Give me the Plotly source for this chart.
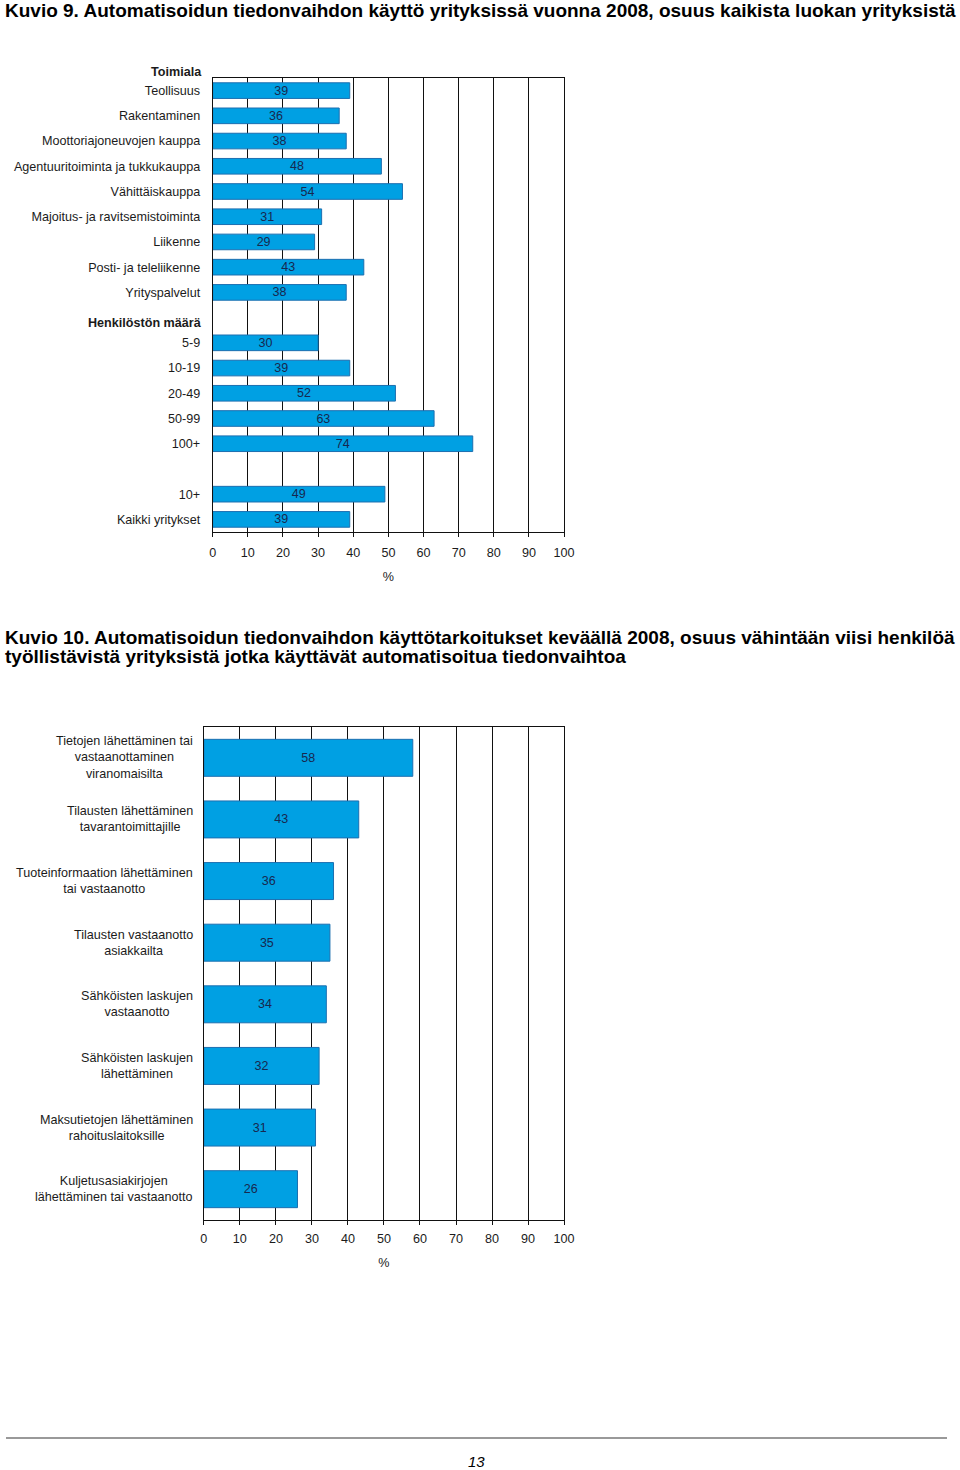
import plotly.graph_objects as go

# ---------------- data: Kuvio 9 ----------------
toimiala_labels = ["Teollisuus", "Rakentaminen", "Moottoriajoneuvojen kauppa",
                   "Agentuuritoiminta ja tukkukauppa", "Vähittäiskauppa",
                   "Majoitus- ja ravitsemistoiminta", "Liikenne",
                   "Posti- ja teleliikenne", "Yrityspalvelut"]
toimiala_values = [39, 36, 38, 48, 54, 31, 29, 43, 38]

koko_labels = ["5-9", "10-19", "20-49", "50-99", "100+"]
koko_values = [30, 39, 52, 63, 74]

total_labels = ["10+", "Kaikki yritykset"]
total_values = [49, 39]

header_labels = ["Toimiala", "Henkilöstön määrä"]

# ---------------- data: Kuvio 10 ----------------
purpose_labels = ["Tietojen lähettäminen tai<br>vastaanottaminen<br>viranomaisilta",
                  "Tilausten lähettäminen<br>tavarantoimittajille",
                  "Tuoteinformaation lähettäminen<br>tai vastaanotto",
                  "Tilausten vastaanotto<br>asiakkailta",
                  "Sähköisten laskujen<br>vastaanotto",
                  "Sähköisten laskujen<br>lähettäminen",
                  "Maksutietojen lähettäminen<br>rahoituslaitoksille",
                  "Kuljetusasiakirjojen<br>lähettäminen tai vastaanotto"]
purpose_values = [58, 43, 36, 35, 34, 32, 31, 26]

x_ticks = [0, 10, 20, 30, 40, 50, 60, 70, 80, 90, 100]

title1 = "Kuvio 9. Automatisoidun tiedonvaihdon käyttö yrityksissä vuonna 2008, osuus kaikista luokan yrityksistä"
title2_lines = ["Kuvio 10. Automatisoidun tiedonvaihdon käyttötarkoitukset keväällä 2008, osuus vähintään viisi henkilöä",
                "työllistävistä yrityksistä jotka käyttävät automatisoitua tiedonvaihtoa"]
page_number = "13"

# ---------------- build ----------------
W, H = 960, 1470
FONT = "Liberation Sans, Arial, sans-serif"
BAR = "#00A0E3"
BAR_LINE = "#1C6FB0"
TXT = "#1b1b1b"
VAL_TXT = "#17284f"
LBL = 12.6


def fx(px):
    return px / W


def py(px):
    return 1 - px / H


# slot positions for chart 1 (gap rows for headers / spacing)
pos_toim = list(range(len(toimiala_labels)))
start_koko = len(toimiala_labels) + 1
pos_koko = [start_koko + i for i in range(len(koko_labels))]
start_tot = pos_koko[-1] + 2
pos_tot = [start_tot + i for i in range(len(total_labels))]

y1_pos = pos_toim + pos_koko + pos_tot
y1_vals = toimiala_values + koko_values + total_values
y1_labels = toimiala_labels + koko_labels + total_labels

fig = go.Figure()

fig.add_trace(go.Bar(
    x=y1_vals, y=y1_pos, orientation="h", xaxis="x", yaxis="y",
    width=0.62,
    marker=dict(color=BAR, line=dict(color=BAR_LINE, width=1)),
    text=[str(v) for v in y1_vals], textposition="inside", constraintext="none",
    insidetextanchor="middle", textangle=0,
    insidetextfont=dict(family=FONT, size=12.5, color=VAL_TXT),
    hoverinfo="skip", showlegend=False,
))

y2_pos = list(range(len(purpose_labels)))
fig.add_trace(go.Bar(
    x=purpose_values, y=y2_pos, orientation="h", xaxis="x2", yaxis="y2",
    width=0.6,
    marker=dict(color=BAR, line=dict(color=BAR_LINE, width=1)),
    text=[str(v) for v in purpose_values], textposition="inside", constraintext="none",
    insidetextanchor="middle", textangle=0,
    insidetextfont=dict(family=FONT, size=12.5, color=VAL_TXT),
    hoverinfo="skip", showlegend=False,
))


def xaxis_style(standoff):
    return dict(range=[0, 100], tickvals=x_ticks, showgrid=True, gridcolor="#111",
                gridwidth=1, showline=True, linecolor="#111", linewidth=1, mirror=True,
                ticks="outside", ticklen=4, tickcolor="#111", zeroline=False,
                ticklabelstandoff=standoff,
                tickfont=dict(family=FONT, size=LBL, color=TXT),
                title=dict(text="%", font=dict(family=FONT, size=LBL, color=TXT), standoff=13),
                fixedrange=True)


annotations = []
annotations.append(dict(text="<b>" + title1 + "</b>", x=fx(-1), y=py(10), xref="paper", yref="paper",
                        xanchor="left", yanchor="middle", showarrow=False,
                        font=dict(family=FONT, size=19, color="#000")))
for i, line in enumerate(title2_lines):
    annotations.append(dict(text="<b>" + line + "</b>", x=fx(-1), y=py(637 + 19 * i),
                            xref="paper", yref="paper", xanchor="left", yanchor="middle",
                            showarrow=False, font=dict(family=FONT, size=19, color="#000")))

for lab, hy in zip(header_labels, [72, 323]):
    annotations.append(dict(text="<b>" + lab + "</b>", x=fx(203), y=py(hy), xref="paper", yref="paper",
                            xanchor="right", yanchor="middle", showarrow=False,
                            font=dict(family=FONT, size=LBL, color=TXT)))

for lab, p in zip(purpose_labels, y2_pos):
    annotations.append(dict(text=lab, x=-0.025, y=p, xref="x2 domain", yref="y2",
                            xanchor="right", yanchor="middle", align="center", showarrow=False,
                            font=dict(family=FONT, size=LBL, color=TXT)))

annotations.append(dict(text="<i>" + page_number + "</i>", x=fx(480), y=py(1461), xref="paper",
                        yref="paper", xanchor="center", yanchor="middle", showarrow=False,
                        font=dict(family=FONT, size=15, color="#000")))

fig.update_layout(
    width=W, height=H, margin=dict(l=0, r=0, t=0, b=0),
    paper_bgcolor="white", plot_bgcolor="white",
    font=dict(family=FONT, size=12, color=TXT),
    bargap=0,
    xaxis=dict(domain=[fx(212), fx(569)], anchor="y", **xaxis_style(5)),
    yaxis=dict(domain=[py(532), py(78)], anchor="x", range=[pos_tot[-1] + 0.5, -0.5],
               tickvals=y1_pos, ticktext=y1_labels, showgrid=False, showline=True,
               linecolor="#111", mirror=True, ticks="", ticklabelstandoff=9, zeroline=False,
               tickfont=dict(family=FONT, size=LBL, color=TXT), fixedrange=True),
    xaxis2=dict(domain=[fx(203), fx(569)], anchor="y2", **xaxis_style(3)),
    yaxis2=dict(domain=[py(1220), py(727)], anchor="x2", range=[len(purpose_labels) - 0.5, -0.5],
                showticklabels=False, showgrid=False, showline=True, linecolor="#111",
                mirror=True, ticks="", zeroline=False, fixedrange=True),
    annotations=annotations,
    shapes=[dict(type="line", xref="paper", yref="paper", x0=fx(2), x1=fx(958),
                 y0=py(1438), y1=py(1438), line=dict(color="#777777", width=1.5))],
)

# remove the default page margin so the figure fills the 960x1470 window exactly
fig.write_html("out.html",
               config={"displayModeBar": False, "staticPlot": True},
               post_script="document.body.style.margin='0';document.body.style.overflow='hidden';")
